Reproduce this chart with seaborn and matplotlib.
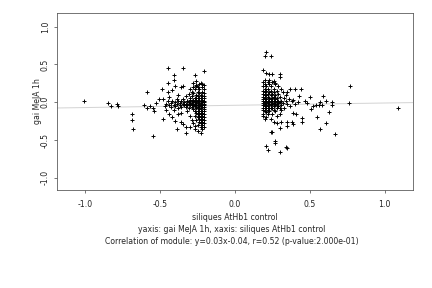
import matplotlib
matplotlib.use("Agg")
import matplotlib.pyplot as plt
import pandas as pd
import seaborn as sns

# Fit reported in the caption
slope = 0.03
intercept = -0.04

x_label = "siliques AtHb1 control"
y_label = "gai MeJA 1h"
caption_1 = "yaxis: gai MeJA 1h, xaxis: siliques AtHb1 control"
caption_2 = "Correlation of module: y=0.03x-0.04, r=0.52 (p-value:2.000e-01)"

x_ticks = [-1.0, -0.5, 0.0, 0.5, 1.0]
y_ticks = [-1.0, -0.5, 0.0, 0.5, 1.0]

# Sparse points (x, y)
left_sparse = [
    (-1.01, 0.01), (-0.85, -0.01), (-0.83, -0.05), (-0.79, -0.02), (-0.78, -0.05),
    (-0.69, -0.15), (-0.69, -0.24), (-0.68, -0.36), (-0.59, 0.14), (-0.61, -0.03),
    (-0.59, -0.07), (-0.57, -0.05), (-0.55, -0.07), (-0.54, -0.11), (-0.53, -0.01),
    (-0.51, 0.04), (-0.55, -0.45), (-0.45, 0.45), (-0.35, 0.45), (-0.21, 0.41),
    (-0.41, 0.36), (-0.41, 0.30), (-0.45, 0.26), (-0.27, 0.36), (-0.49, 0.18),
    (-0.40, 0.21), (-0.35, 0.22), (-0.36, 0.20), (-0.42, 0.16), (-0.45, 0.14),
    (-0.29, 0.14), (-0.26, 0.21), (-0.24, 0.24), (-0.22, 0.24), (-0.48, 0.04),
    (-0.47, -0.05), (-0.46, -0.10), (-0.44, -0.16), (-0.42, -0.20), (-0.48, -0.22),
    (-0.40, -0.25), (-0.36, -0.26), (-0.35, -0.29), (-0.33, -0.33), (-0.30, -0.33),
    (-0.39, -0.36), (-0.33, -0.41), (-0.23, -0.40),
    (-0.38, 0.10), (-0.33, 0.08), (-0.31, 0.11), (-0.44, 0.07), (-0.36, -0.14),
    (-0.32, -0.12), (-0.30, -0.18), (-0.38, -0.15), (-0.41, -0.10), (-0.29, -0.24),
    (-0.28, -0.28), (-0.27, -0.31), (-0.26, 0.28), (-0.28, 0.25), (-0.30, 0.18),
    (-0.27, -0.36), (-0.25, -0.38),
]

left_band = [
    (-0.46, -0.02), (-0.45, 0.01), (-0.44, -0.04), (-0.43, -0.01), (-0.42, 0.02),
    (-0.41, -0.03), (-0.40, -0.05), (-0.40, 0.00), (-0.39, -0.02), (-0.38, 0.01),
    (-0.37, -0.04), (-0.37, -0.01), (-0.36, -0.06), (-0.36, 0.02), (-0.35, -0.02),
    (-0.34, -0.04), (-0.34, 0.00), (-0.33, -0.06), (-0.33, -0.02), (-0.32, 0.01),
    (-0.32, -0.04), (-0.31, -0.07), (-0.31, -0.02), (-0.43, -0.06), (-0.38, -0.08),
    (-0.35, 0.04), (-0.30, 0.03), (-0.39, 0.04),
]

# Dense column next to x=-0.2: (y, [x values])
left_dense_rows = [
    (0.26, [-0.23]), (0.23, [-0.21, -0.26]), (0.20, [-0.22, -0.25, -0.28]),
    (0.17, [-0.21, -0.24, -0.27]), (0.14, [-0.22, -0.25]), (0.12, [-0.21, -0.24, -0.28]),
    (0.10, [-0.23, -0.26]), (0.08, [-0.21, -0.22, -0.25, -0.29]), (0.06, [-0.23, -0.27]),
    (0.05, [-0.21, -0.24, -0.26, -0.30]), (0.03, [-0.22, -0.25, -0.28]),
    (0.02, [-0.21, -0.23, -0.27, -0.32]), (0.01, [-0.24, -0.26, -0.29]),
    (0.00, [-0.21, -0.22, -0.25, -0.28, -0.31]), (-0.01, [-0.23, -0.26, -0.30]),
    (-0.02, [-0.21, -0.24, -0.27, -0.29]), (-0.03, [-0.22, -0.25, -0.28]),
    (-0.04, [-0.21, -0.23, -0.26, -0.30]), (-0.05, [-0.24, -0.27]),
    (-0.06, [-0.21, -0.22, -0.25, -0.29]), (-0.08, [-0.23, -0.26]),
    (-0.09, [-0.21, -0.24, -0.28]), (-0.11, [-0.22, -0.25]), (-0.12, [-0.21, -0.23, -0.27]),
    (-0.14, [-0.22, -0.24, -0.26]), (-0.16, [-0.21, -0.23, -0.25]),
    (-0.18, [-0.22, -0.24, -0.27]), (-0.20, [-0.21, -0.23, -0.25]), (-0.22, [-0.22, -0.24]),
    (-0.24, [-0.21, -0.23, -0.26]), (-0.26, [-0.22, -0.24]), (-0.28, [-0.21, -0.23]),
    (-0.30, [-0.22, -0.25]), (-0.33, [-0.21, -0.23]), (-0.36, [-0.22]),
]

right_sparse = [
    (0.21, 0.67), (0.20, 0.61), (0.24, 0.61), (0.19, 0.43), (0.21, 0.39), (0.23, 0.37),
    (0.25, 0.37), (0.30, 0.38), (0.30, 0.33), (0.26, 0.28), (0.27, 0.26), (0.35, 0.14),
    (0.37, 0.17), (0.40, 0.17), (0.44, 0.18), (0.43, 0.08), (0.39, 0.03), (0.47, 0.01),
    (0.50, 0.07), (0.48, -0.01), (0.59, 0.08), (0.54, -0.03), (0.56, -0.03),
    (0.21, -0.13), (0.19, -0.18), (0.21, -0.20), (0.25, -0.16), (0.28, -0.18),
    (0.26, -0.26), (0.28, -0.28), (0.31, -0.26), (0.35, -0.26), (0.35, -0.32),
    (0.24, -0.39), (0.25, -0.39), (0.30, -0.34), (0.38, -0.26), (0.39, -0.29),
    (0.45, -0.26), (0.45, -0.21), (0.39, -0.14), (0.41, -0.16), (0.55, -0.20),
    (0.57, -0.36), (0.27, -0.51), (0.27, -0.54), (0.21, -0.58), (0.22, -0.63),
    (0.30, -0.66), (0.34, -0.59), (0.35, -0.61),
    (0.77, 0.22), (0.76, -0.01), (1.09, -0.07), (0.52, -0.05), (0.51, -0.09),
    (0.57, 0.00), (0.58, -0.03), (0.61, 0.01), (0.65, 0.00), (0.65, -0.03),
    (0.63, -0.13), (0.61, -0.28), (0.67, -0.42),
]

# Dense blob next to x=0.2: (y, [x values])
right_dense_rows = [
    (0.30, [0.20, 0.23]), (0.27, [0.19, 0.22, 0.25]), (0.24, [0.20, 0.23, 0.27]),
    (0.21, [0.19, 0.21, 0.24, 0.29]), (0.18, [0.20, 0.22, 0.26, 0.31]),
    (0.15, [0.19, 0.21, 0.24, 0.28]), (0.13, [0.20, 0.23, 0.26, 0.32]),
    (0.11, [0.19, 0.22, 0.25, 0.29]), (0.09, [0.20, 0.21, 0.24, 0.27, 0.34]),
    (0.07, [0.19, 0.22, 0.26, 0.30]), (0.05, [0.20, 0.23, 0.25, 0.28, 0.33]),
    (0.04, [0.19, 0.21, 0.24, 0.27, 0.36]), (0.02, [0.20, 0.22, 0.26, 0.29, 0.31]),
    (0.01, [0.19, 0.23, 0.25, 0.28, 0.34, 0.38]), (0.00, [0.20, 0.21, 0.24, 0.27, 0.30, 0.42]),
    (-0.01, [0.19, 0.22, 0.26, 0.29, 0.32]), (-0.02, [0.20, 0.23, 0.25, 0.28, 0.35, 0.40]),
    (-0.04, [0.19, 0.21, 0.24, 0.27, 0.31]), (-0.05, [0.20, 0.22, 0.26, 0.29, 0.37]),
    (-0.07, [0.19, 0.23, 0.25, 0.28, 0.33]), (-0.08, [0.20, 0.21, 0.24, 0.30]),
    (-0.10, [0.19, 0.22, 0.26, 0.31]), (-0.12, [0.20, 0.23, 0.27]),
    (-0.15, [0.19, 0.22, 0.30]), (-0.22, [0.20, 0.24]),
]


def build_points():
    pts = list(left_sparse) + list(left_band) + list(right_sparse)
    for y, xs in left_dense_rows + right_dense_rows:
        pts.extend((x, y) for x in xs)
    return pd.DataFrame(pts, columns=["x", "y"])


def main():
    df = build_points()

    sns.set_style("ticks")
    plt.rcParams["font.family"] = ["DejaVu Sans"]
    fs = 7.8

    fig = plt.figure(figsize=(6, 4), dpi=72)
    ax = fig.add_axes([57 / 432, 1 - 190 / 288, 356 / 432, 177 / 288])

    # regression line behind the points
    ax.axline((0, intercept), slope=slope, color="#d4d4d4", lw=1.0, zorder=1)

    sns.scatterplot(data=df, x="x", y="y", marker="+", color="black",
                    s=24, linewidth=0.95, ax=ax, zorder=2, legend=False)

    ax.set_xlim(-1.19, 1.19)
    ax.set_ylim(-1.16, 1.18)
    ax.set_xticks(x_ticks)
    ax.set_yticks(y_ticks)
    ax.set_xticklabels([f"{t:.1f}" for t in x_ticks])
    ax.set_yticklabels([f"{t:.1f}" for t in y_ticks], rotation=90, va="center")

    ax.tick_params(axis="x", labelsize=fs, length=3, width=0.6, colors="#222222", pad=7)
    ax.tick_params(axis="y", labelsize=fs, length=3, width=0.6, colors="#222222", pad=4)
    for sp in ax.spines.values():
        sp.set_visible(True)
        sp.set_color("#555555")
        sp.set_linewidth(0.8)

    ax.set_xlabel(x_label, fontsize=fs, va="center")
    ax.xaxis.set_label_coords(0.5, -27 / 177)
    ax.set_ylabel(y_label, fontsize=fs, va="center")
    ax.yaxis.set_label_coords(-19 / 356, 0.5)

    fig.text(232 / 432, 1 - 229 / 288, caption_1, ha="center", va="center", fontsize=fs)
    fig.text(232 / 432, 1 - 242 / 288, caption_2, ha="center", va="center", fontsize=fs)

    fig.savefig("out.png", dpi=72)
    plt.close(fig)


if __name__ == "__main__":
    main()
